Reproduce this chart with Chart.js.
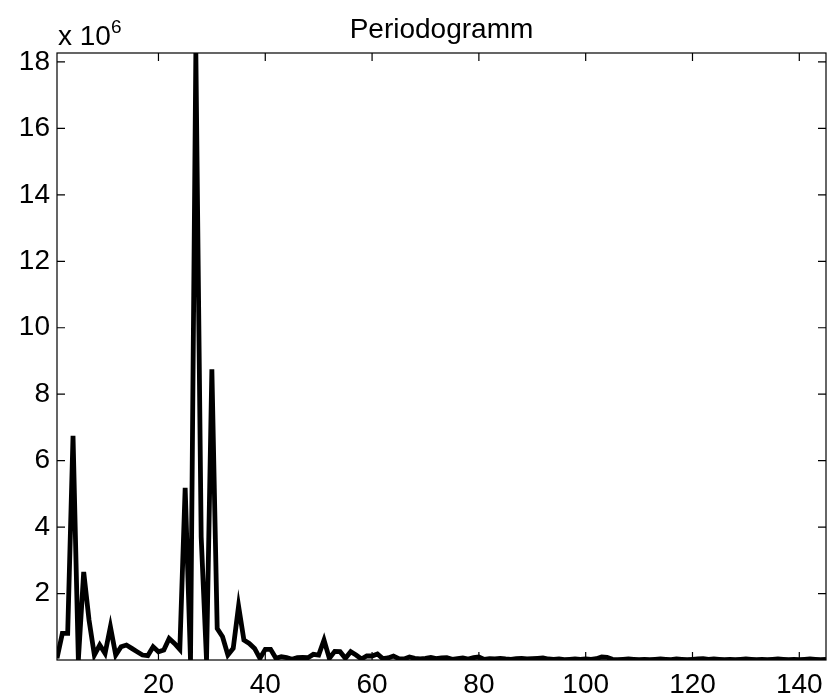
<!DOCTYPE html>
<html>
<head>
<meta charset="utf-8">
<script src="https://cdn.jsdelivr.net/npm/chart.js@4.4.1/dist/chart.umd.min.js"></script>
<style>
html,body{margin:0;padding:0;background:#fff;}
#wrap{width:833px;height:697px;position:relative;}
</style>
</head>
<body>
<div id="wrap"><canvas id="c" width="833" height="697"></canvas></div>
<script>
// ---- data (values in units of 10^6) ----
const chartTitle = "Periodogramm";
const xTicks = [20, 40, 60, 80, 100, 120, 140];
const yTicks = [2, 4, 6, 8, 10, 12, 14, 16, 18];
const xMin = 1, xMax = 145;
const yMin = 0, yMax = 18.27;
const power = [
  0.05, 0.80, 0.80, 6.75, 0.00, 2.65, 1.20, 0.15, 0.45, 0.20,
  1.00, 0.15, 0.40, 0.45, 0.35, 0.25, 0.15, 0.13, 0.40, 0.25,
  0.30, 0.65, 0.50, 0.32, 5.18, 0.00, 18.27, 3.70, 0.00, 8.75,
  0.95, 0.70, 0.15, 0.35, 1.62, 0.60, 0.50, 0.35, 0.05, 0.32,
  0.32, 0.05, 0.10, 0.07, 0.02, 0.07, 0.08, 0.07, 0.17, 0.15,
  0.60, 0.05, 0.26, 0.25, 0.05, 0.25, 0.15, 0.03, 0.12, 0.12,
  0.18, 0.04, 0.06, 0.12, 0.04, 0.03, 0.09, 0.05, 0.03, 0.05,
  0.08, 0.04, 0.06, 0.07, 0.02, 0.04, 0.06, 0.03, 0.07, 0.09,
  0.02, 0.04, 0.03, 0.05, 0.03, 0.02, 0.04, 0.05, 0.03, 0.04,
  0.05, 0.06, 0.03, 0.02, 0.03, 0.01, 0.02, 0.03, 0.02, 0.03,
  0.02, 0.04, 0.09, 0.08, 0.02, 0.01, 0.02, 0.03, 0.02, 0.01,
  0.02, 0.01, 0.02, 0.03, 0.02, 0.01, 0.03, 0.02, 0.01, 0.02,
  0.03, 0.04, 0.02, 0.03, 0.02, 0.01, 0.02, 0.01, 0.02, 0.03,
  0.02, 0.01, 0.02, 0.01, 0.02, 0.03, 0.02, 0.01, 0.02, 0.01,
  0.02, 0.03, 0.02, 0.01, 0.02
];
const freq = power.map((_, i) => i + 1);

const FONT = "'Liberation Sans', Arial, Helvetica, sans-serif";

const boxPlugin = {
  id: 'matlabBox',
  afterDatasetsDraw(chart) {
    const {ctx, chartArea: a, scales} = chart;
    ctx.save();
    ctx.strokeStyle = '#000';
    ctx.lineWidth = 1.2;
    ctx.strokeRect(a.left, a.top, a.right - a.left, a.bottom - a.top);
    const L = 8;
    ctx.beginPath();
    scales.x.ticks.forEach(t => {
      const px = scales.x.getPixelForValue(t.value);
      ctx.moveTo(px, a.bottom); ctx.lineTo(px, a.bottom - L);
      ctx.moveTo(px, a.top); ctx.lineTo(px, a.top + L);
    });
    scales.y.ticks.forEach(t => {
      const py = scales.y.getPixelForValue(t.value);
      ctx.moveTo(a.left, py); ctx.lineTo(a.left + L, py);
      ctx.moveTo(a.right, py); ctx.lineTo(a.right - L, py);
    });
    ctx.stroke();
    // title
    ctx.fillStyle = '#000';
    ctx.textAlign = 'center';
    ctx.textBaseline = 'alphabetic';
    ctx.font = '28px ' + FONT;
    ctx.fillText(chartTitle, (a.left + a.right) / 2, 38);
    // exponent label
    ctx.textAlign = 'left';
    ctx.font = '28px ' + FONT;
    ctx.fillText('x 10', a.left + 1, 45);
    const w = ctx.measureText('x 10').width;
    ctx.font = '19px ' + FONT;
    ctx.fillText('6', a.left + 1 + w, 33);
    ctx.restore();
  }
};

new Chart(document.getElementById('c'), {
  type: 'line',
  data: {
    labels: freq,
    datasets: [{
      data: power.map((v, i) => ({x: freq[i], y: v})),
      borderColor: '#000',
      borderWidth: 4.8,
      borderJoinStyle: 'miter',
      pointRadius: 0,
      tension: 0,
      fill: false
    }]
  },
  options: {
    responsive: false,
    animation: false,
    events: [],
    layout: {padding: {top: 53, right: 7, left: 0, bottom: 0}},
    plugins: {legend: {display: false}, title: {display: false}, tooltip: {enabled: false}},
    scales: {
      x: {
        type: 'linear', min: xMin, max: xMax,
        grid: {display: false, drawTicks: false},
        border: {display: false},
        afterBuildTicks: s => { s.ticks = xTicks.map(v => ({value: v})); },
        afterFit: s => { s.height = 37; },
        ticks: {color: '#000', font: {family: FONT, size: 28}, padding: 8, maxRotation: 0, autoSkip: false,
                callback: v => String(v)}
      },
      y: {
        type: 'linear', min: yMin, max: yMax,
        grid: {display: false, drawTicks: false},
        border: {display: false},
        afterBuildTicks: s => { s.ticks = yTicks.map(v => ({value: v})); },
        afterFit: s => { s.width = 57; },
        ticks: {color: '#000', font: {family: FONT, size: 28}, padding: 7, autoSkip: false,
                callback: v => String(v)}
      }
    }
  },
  plugins: [boxPlugin]
});
</script>
</body>
</html>
